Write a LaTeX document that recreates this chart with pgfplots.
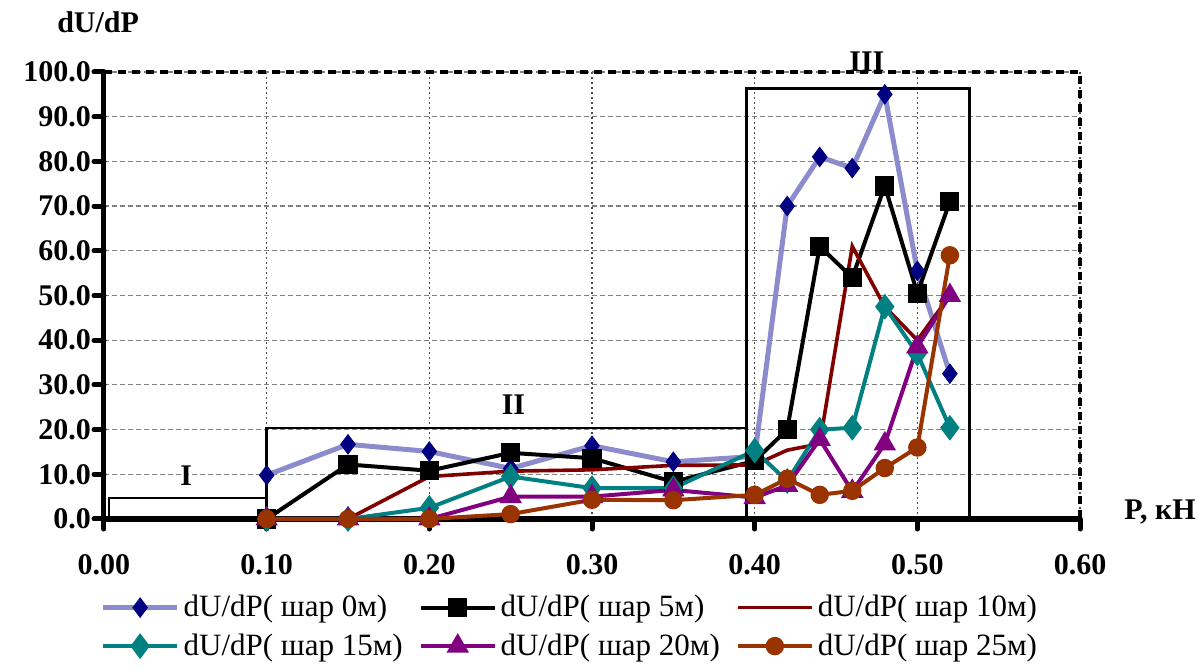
\documentclass[border=0pt]{standalone}
\usepackage{fontspec}
\setmainfont{Liberation Serif}
\usepackage{pgfplots}
\pgfplotsset{compat=1.18}

\definecolor{navyM}{RGB}{0,0,128}
\definecolor{blueL}{RGB}{140,140,205}
\definecolor{redD}{RGB}{128,0,0}
\definecolor{tealD}{RGB}{0,128,128}
\definecolor{purpD}{RGB}{128,0,128}
\definecolor{brownD}{RGB}{153,51,0}

\begin{document}
\begin{tikzpicture}
\useasboundingbox (-52pt,-74.5pt) rectangle (547pt,259.5pt);
\begin{axis}[
    scale only axis,
    width=488pt, height=223.5pt,
    xmin=0, xmax=0.6, ymin=0, ymax=100,
    xtick={0,0.1,...,0.6}, ytick={0,10,...,100},
    axis x line*=bottom, axis y line*=left,
    x axis line style={line width=3pt,-},
    y axis line style={line width=2.5pt,-},
    tick align=outside, major tick length=5pt,
    tick style={line width=2.5pt, line cap=round, black},
    xmajorgrids, ymajorgrids,
    major x grid style={black!70, line width=0.6pt, dash pattern=on 1pt off 1.5pt},
    major y grid style={black!50, line width=0.6pt, dash pattern=on 2.5pt off 1.5pt},
    /pgf/number format/assume math mode=true,
    ticklabel style={font=\rmfamily\fontsize{15}{17}\selectfont\bfseries},
    xticklabel style={/pgf/number format/fixed, /pgf/number format/fixed zerofill, /pgf/number format/precision=2, yshift=-9pt},
    yticklabel style={/pgf/number format/fixed, /pgf/number format/fixed zerofill, /pgf/number format/precision=1, xshift=2pt},
    scaled x ticks=false,
    ylabel={dU/dP},
    ylabel style={rotate=-90, at={(rel axis cs:-0.006,1.112)}, anchor=center, font=\rmfamily\fontsize{15}{17}\selectfont\bfseries},
    xlabel={P, кН},
    xlabel style={at={(rel axis cs:1.082,0.016)}, anchor=center, font=\rmfamily\fontsize{15}{17}\selectfont\bfseries},
    clip=false,
    legend columns=3,
    legend cell align=left,
    legend style={at={(rel axis cs:-0.01,-0.152)}, anchor=north west, draw=none, fill=none,
        font=\rmfamily\fontsize{15.5}{17}\selectfont, column sep=0pt, row sep=3pt,
        /tikz/every even column/.append style={column sep=6pt}},
    legend image code/.code={\draw[mark repeat=2,mark phase=2] plot coordinates {(0cm,0cm) (0.65cm,0cm) (1.3cm,0cm)};},
]
% top and right borders
\draw[line width=1.6pt, dash pattern=on 4pt off 3pt] (rel axis cs:0,1) -- (rel axis cs:1,1) -- (rel axis cs:1,0);
% zones
\draw[line width=1.2pt] (axis cs:0.003,0) rectangle (axis cs:0.1,4.7);
\draw[line width=1.2pt] (axis cs:0.1,0) rectangle (axis cs:0.395,20.4);
\draw[line width=1.5pt] (axis cs:0.395,0) rectangle (axis cs:0.532,96.2);
\node[font=\rmfamily\fontsize{15}{17}\selectfont\bfseries] at (axis cs:0.0505,9.8) {I};
\node[font=\rmfamily\fontsize{15}{17}\selectfont\bfseries] at (axis cs:0.2517,25.5) {II};
\node[font=\rmfamily\fontsize{15}{17}\selectfont\bfseries] at (axis cs:0.469,102.2) {III};

\addplot[blueL, line width=2.5pt, mark=diamond*, mark size=4.8pt, mark options={navyM, fill=navyM, line width=0.5pt}]
coordinates {(0.10,9.8) (0.15,16.7) (0.20,15.1) (0.25,11.3) (0.30,16.4) (0.35,12.8) (0.40,14.0) (0.42,70.0) (0.44,81.0) (0.46,78.5) (0.48,95.0) (0.50,55.5) (0.52,32.5)};
\addlegendentry{dU/dP( шар 0м)}
\addplot[black, line width=2pt, mark=square*, mark size=3.8pt, mark options={fill=black}]
coordinates {(0.10,0) (0.15,12.2) (0.20,10.8) (0.25,14.8) (0.30,13.6) (0.35,8.3) (0.40,13.0) (0.42,20.0) (0.44,61.0) (0.46,54.0) (0.48,74.5) (0.50,50.5) (0.52,71.0)};
\addlegendentry{dU/dP( шар 5м)}
\addplot[redD, line width=1.8pt, mark=none]
coordinates {(0.10,0) (0.15,0) (0.20,9.5) (0.25,10.7) (0.30,11.0) (0.35,12.0) (0.40,12.1) (0.42,15.4) (0.44,16.8) (0.46,61.0) (0.48,47.5) (0.50,40.0) (0.52,50.0)};
\addlegendentry{dU/dP( шар 10м)}
\addplot[tealD, line width=2pt, mark=diamond*, mark size=4.8pt, mark options={fill=tealD}]
coordinates {(0.10,0) (0.15,0) (0.20,2.5) (0.25,9.5) (0.30,6.9) (0.35,6.9) (0.40,15.3) (0.42,8.5) (0.44,20.0) (0.46,20.4) (0.48,47.5) (0.50,37.0) (0.52,20.4)};
\addlegendentry{dU/dP( шар 15м)}
\addplot[purpD, line width=2pt, mark=triangle*, mark size=4.5pt, mark options={fill=purpD}]
coordinates {(0.10,0) (0.15,0) (0.20,0) (0.25,5.0) (0.30,5.0) (0.35,6.5) (0.40,4.8) (0.42,7.5) (0.44,17.8) (0.46,6.2) (0.48,16.8) (0.50,38.5) (0.52,50.0)};
\addlegendentry{dU/dP( шар 20м)}
\addplot[brownD, line width=2pt, mark=*, mark size=3.6pt, mark options={fill=brownD}]
coordinates {(0.10,0) (0.15,0) (0.20,0) (0.25,1.1) (0.30,4.3) (0.35,4.2) (0.40,5.4) (0.42,9.0) (0.44,5.4) (0.46,6.3) (0.48,11.4) (0.50,16.0) (0.52,59.0)};
\addlegendentry{dU/dP( шар 25м)}
\end{axis}
\end{tikzpicture}
\end{document}
